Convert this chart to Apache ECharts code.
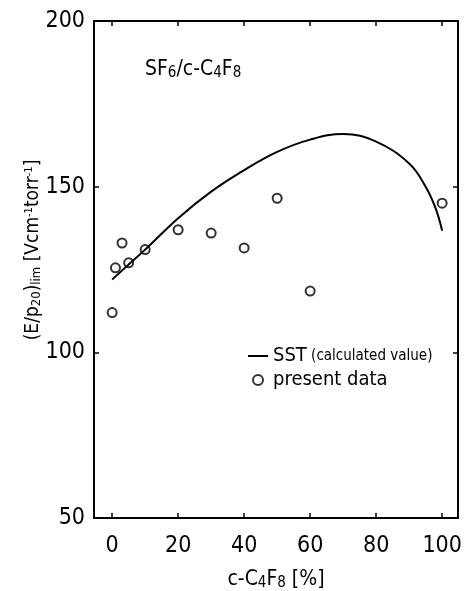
<!DOCTYPE html>
<html>
<head>
<meta charset="utf-8">
<script src="https://cdn.jsdelivr.net/npm/echarts@6/dist/echarts.min.js"></script>
<style>
  html, body { margin: 0; padding: 0; background: #fff; }
  #chart { width: 472px; height: 591px; }
</style>
</head>
<body>
<div id="chart"></div>
<script>
// Measured breakdown field vs. c-C4F8 fraction in SF6/c-C4F8 mixtures
const compositionPct = [0, 1, 3, 5, 10, 20, 30, 40, 50, 60, 100];
const measuredLimit  = [112, 125.5, 133, 127, 131, 137, 136, 131.5, 146.5, 118.5, 145];

// SST calculated curve
const sstPct   = [0, 5, 10, 20, 30, 40, 50, 60, 70, 80, 90, 95, 98, 100];
const sstLimit = [122, 126.5, 131, 140.5, 148.5, 155, 160.5, 164.2, 165.9, 163.6, 157, 150, 143.5, 136.7];

const xTicks = [0, 20, 40, 60, 80, 100];

const FONT = '"DejaVu Sans Condensed", "Liberation Sans Narrow", "Liberation Sans", sans-serif';

const chart = echarts.init(document.getElementById('chart'), null, { renderer: 'canvas' });

const tickStyle = { lineStyle: { color: '#000', width: 1.5 } };
const hiddenLine = { show: false, onZero: false };

chart.setOption({
  animation: false,
  backgroundColor: '#fff',
  grid: {
    left: 94, right: 14, top: 21, bottom: 73,
    outerBoundsMode: 'none', containLabel: false,
    show: true, borderColor: '#000', borderWidth: 2, backgroundColor: 'transparent'
  },
  xAxis: [{
    type: 'value', min: -5.5, max: 104.8, position: 'bottom',
    axisLine: hiddenLine,
    splitLine: { show: false },
    axisTick: { show: true, inside: true, length: 5, customValues: xTicks, ...tickStyle },
    axisLabel: { show: true, customValues: xTicks, margin: 17, color: '#000', fontFamily: FONT, fontSize: 23 },
    name: 'c-C{s|4}F{s|8} [%]',
    nameLocation: 'middle', nameGap: 50,
    nameTextStyle: {
      color: '#000', fontFamily: FONT, fontSize: 21,
      rich: { s: { fontFamily: FONT, fontSize: 15, color: '#000', padding: [8, 0, 0, 0] } }
    }
  }, {
    type: 'value', min: -5.5, max: 104.8, position: 'top',
    axisLine: hiddenLine, splitLine: { show: false },
    axisTick: { show: true, inside: true, length: 5, customValues: xTicks, ...tickStyle },
    axisLabel: { show: false }
  }],
  yAxis: [{
    type: 'value', min: 50, max: 200, interval: 50, position: 'left',
    axisLine: hiddenLine, splitLine: { show: false },
    axisTick: { show: true, inside: true, length: 5, ...tickStyle },
    axisLabel: { margin: 9, color: '#000', fontFamily: FONT, fontSize: 23 }
  }, {
    type: 'value', min: 50, max: 200, interval: 50, position: 'right',
    axisLine: hiddenLine, splitLine: { show: false },
    axisTick: { show: true, inside: true, length: 5, ...tickStyle },
    axisLabel: { show: false }
  }],
  legend: {
    orient: 'vertical', left: 243, top: 341, itemGap: 4,
    itemWidth: 20, itemHeight: 10,
    data: [
      { name: 'SST', icon: 'path://M0,0 H20 V2 H0 Z' },
      { name: 'present data', icon: 'circle' }
    ],
    formatter: function (name) {
      return name === 'SST' ? '{a|SST}{b| (calculated value)}' : '{a|present data}';
    },
    textStyle: {
      color: '#000', fontFamily: FONT,
      rich: {
        a: { fontFamily: FONT, fontSize: 20, color: '#000' },
        b: { fontFamily: FONT, fontSize: 15, color: '#000' }
      }
    }
  },
  graphic: [{
    type: 'text', left: 145, top: 59,
    style: {
      text: 'SF{s|6}/c-C{s|4}F{s|8}',
      font: '21px ' + FONT, fill: '#000',
      rich: { s: { font: '15px ' + FONT, fill: '#000', padding: [8, 0, 0, 0] } }
    }
  }, {
    type: 'text', x: 33, y: 250, rotation: Math.PI / 2,
    style: {
      text: '(E/p{s|20}){s|lim} [Vcm{u|-1}torr{u|-1}]',
      font: '19px ' + FONT, fill: '#000', align: 'center', verticalAlign: 'middle',
      rich: {
        s: { font: '13px ' + FONT, fill: '#000', padding: [8, 0, 0, 0] },
        u: { font: '11px ' + FONT, fill: '#000', padding: [0, 0, 8, 0] }
      }
    }
  }],
  series: [{
    name: 'SST', type: 'line', xAxisIndex: 0, yAxisIndex: 0,
    data: sstPct.map((x, i) => [x, sstLimit[i]]),
    smooth: 0.4, symbol: 'none',
    lineStyle: { color: '#000', width: 2 },
    itemStyle: { color: '#000' }
  }, {
    name: 'present data', type: 'scatter', xAxisIndex: 0, yAxisIndex: 0,
    data: compositionPct.map((x, i) => [x, measuredLimit[i]]),
    symbol: 'circle', symbolSize: 9,
    itemStyle: { color: '#fff', borderColor: '#000', borderWidth: 2 }
  }]
});
</script>
</body>
</html>
